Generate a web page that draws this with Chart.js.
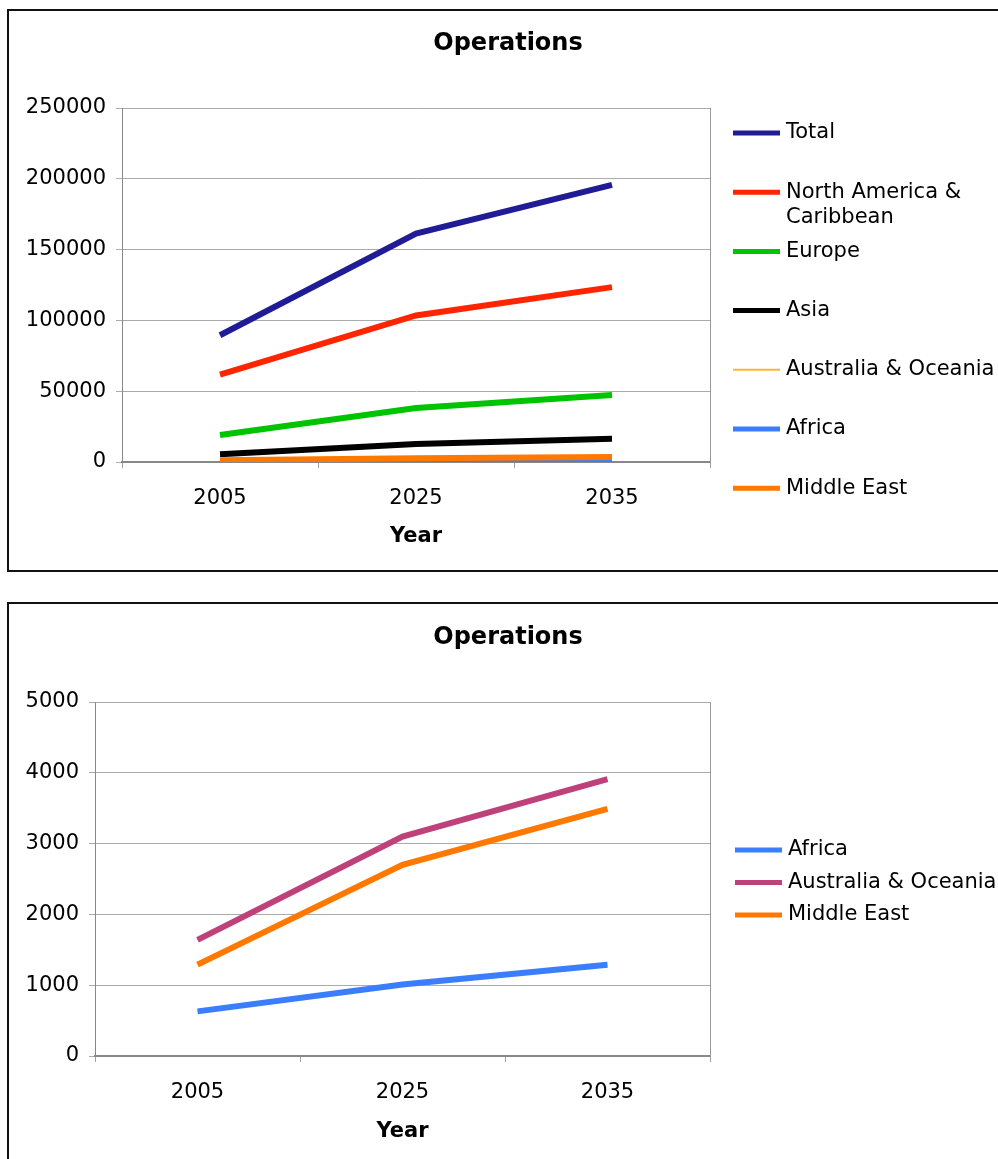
<!DOCTYPE html>
<html>
<head>
<meta charset="utf-8">
<title>Operations</title>
<script src="https://cdn.jsdelivr.net/npm/chart.js@4.4.1/dist/chart.umd.min.js"></script>
<style>
  html, body { margin: 0; padding: 0; background: #fff; width: 998px; height: 1159px; overflow: hidden; }
  .frame { position: absolute; border: 2px solid #111; background: #fff; }
  #f1 { left: 7px; top: 9px; width: 998px; height: 559px; }
  #f2 { left: 7px; top: 602px; width: 998px; height: 570px; }
  canvas { display: block; }
</style>
</head>
<body>
<div class="frame" id="f1"><canvas id="c1" width="998" height="559"></canvas></div>
<div class="frame" id="f2"><canvas id="c2" width="998" height="570"></canvas></div>
<script>
// Operations forecast by region
const years = ['2005', '2025', '2035'];
const total = [89500, 161300, 195700];
const northAmericaCaribbean = [61700, 103500, 123500];
const europe = [19100, 38200, 47400];
const asia = [5400, 12700, 16500];
const australiaOceania = [1640, 3100, 3910];
const africa = [630, 1010, 1290];
const middleEast = [1290, 2700, 3490];

const FONT = '"DejaVu Sans", Verdana, sans-serif';
Chart.defaults.font.family = FONT;
Chart.defaults.color = '#000';

// Legend drawn at the right of the plot, one entry per dataset, with word wrap
const sideLegend = {
  id: 'sideLegend',
  afterDraw(chart, args, opts) {
    const ctx = chart.ctx;
    ctx.save();
    ctx.font = opts.fontSize + 'px ' + FONT;
    ctx.fillStyle = '#000';
    ctx.textBaseline = 'middle';
    ctx.textAlign = 'left';
    const wrap = (text) => {
      const words = text.split(' ');
      const lines = [];
      let cur = '';
      words.forEach(w => {
        const test = cur ? cur + ' ' + w : w;
        if (cur && ctx.measureText(test).width > opts.maxWidth) {
          lines.push(cur);
          cur = w;
        } else {
          cur = test;
        }
      });
      if (cur) lines.push(cur);
      return lines;
    };
    chart.data.datasets.forEach((ds, i) => {
      const y = opts.top + i * opts.spacing;
      ctx.strokeStyle = ds.borderColor;
      ctx.lineWidth = Math.min(ds.borderWidth, opts.maxSampleWidth);
      ctx.lineCap = 'butt';
      ctx.beginPath();
      ctx.moveTo(opts.lineX, y);
      ctx.lineTo(opts.lineX + opts.lineLen, y);
      ctx.stroke();
      wrap(ds.label).forEach((t, k) => ctx.fillText(t, opts.textX, y + k * opts.lineHeight));
    });
    ctx.restore();
  }
};

function series(label, data, color, width, i, n) {
  return {
    label, data,
    borderColor: color,
    backgroundColor: color,
    borderWidth: width,
    pointRadius: 0,
    pointHoverRadius: 0,
    tension: 0,
    fill: false,
    order: n - i
  };
}

function buildOptions(yMax, yStep, yAxisWidth, rightWidth, xAxisHeight, titlePad, yearPad, legendOpts) {
  return {
    responsive: false,
    animation: false,
    events: [],
    layout: { padding: 0 },
    plugins: {
      legend: { display: false },
      tooltip: { enabled: false },
      title: {
        display: true,
        text: 'Operations',
        color: '#000',
        font: { size: 24, weight: 'bold' },
        padding: titlePad
      },
      sideLegend: legendOpts
    },
    scales: {
      x: {
        type: 'category',
        offset: true,
        grid: { offset: true, drawOnChartArea: false, tickLength: 6, color: '#a0a0a0' },
        border: { color: '#888', width: 2 },
        ticks: { padding: 18, color: '#000', font: { size: 21 }, maxRotation: 0 },
        title: {
          display: true,
          text: 'Year',
          color: '#000',
          font: { size: 21, weight: 'bold' },
          padding: { top: 0, bottom: yearPad }
        },
        afterFit(s) { s.height = xAxisHeight; }
      },
      y: {
        min: 0,
        max: yMax,
        ticks: { stepSize: yStep, padding: 10, color: '#000', font: { size: 21 }, callback: v => String(v) },
        grid: { color: '#ababab', tickLength: 6 },
        border: { color: '#888', width: 1 },
        afterFit(s) { s.width = yAxisWidth; }
      },
      frameRight: {
        type: 'linear',
        position: 'right',
        display: true,
        grid: { drawOnChartArea: false, drawTicks: false },
        ticks: { display: false },
        border: { display: true, color: '#999', width: 1 },
        afterFit(s) { s.width = rightWidth; }
      }
    }
  };
}

// Chart 1: all regions
const ds1 = [
  ['Total', total, '#201c96', 6],
  ['North America & Caribbean', northAmericaCaribbean, '#ff2500', 6],
  ['Europe', europe, '#00c400', 6],
  ['Asia', asia, '#000000', 6],
  ['Australia & Oceania', australiaOceania, '#ffb433', 2],
  ['Africa', africa, '#3a7eff', 6],
  ['Middle East', middleEast, '#ff7800', 6]
].map((d, i, arr) => series(d[0], d[1], d[2], d[3], i, arr.length));

new Chart(document.getElementById('c1'), {
  type: 'line',
  data: { labels: years, datasets: ds1 },
  options: buildOptions(250000, 50000, 113, 297, 108,
    { top: 18.6, bottom: 49.6 }, 20.4,
    { top: 122, spacing: 59.2, lineX: 724, lineLen: 47, textX: 777, fontSize: 21, lineHeight: 25, maxWidth: 215, maxSampleWidth: 5 }),
  plugins: [sideLegend]
});

// Chart 2: smaller regions
const ds2 = [
  ['Africa', africa, '#3a7eff', 6],
  ['Australia & Oceania', australiaOceania, '#bf417a', 6],
  ['Middle East', middleEast, '#ff7800', 6]
].map((d, i, arr) => series(d[0], d[1], d[2], d[3], i, arr.length));

new Chart(document.getElementById('c2'), {
  type: 'line',
  data: { labels: years, datasets: ds2 },
  options: buildOptions(5000, 1000, 86, 297, 118,
    { top: 19.6, bottom: 49.6 }, 29.4,
    { top: 246, spacing: 32.5, lineX: 726, lineLen: 47, textX: 779, fontSize: 21, lineHeight: 25, maxWidth: 215, maxSampleWidth: 5 }),
  plugins: [sideLegend]
});
</script>
</body>
</html>
